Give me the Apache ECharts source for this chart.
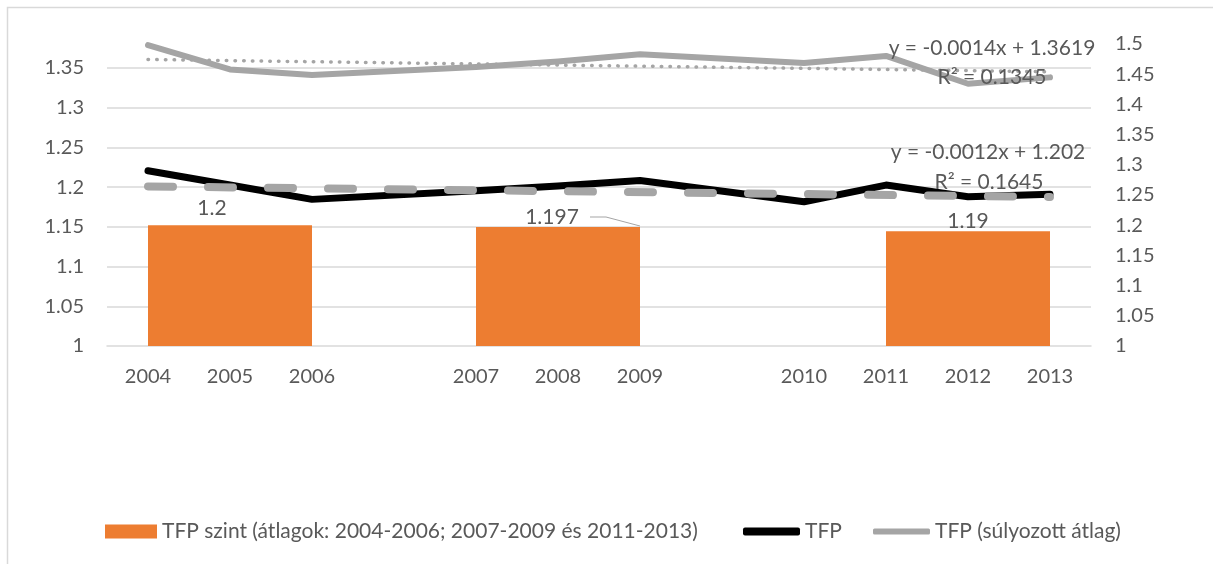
<!DOCTYPE html>
<html>
<head>
<meta charset="utf-8">
<script src="https://cdn.jsdelivr.net/npm/echarts@6/dist/echarts.min.js"></script>
<style>
  html, body { margin: 0; padding: 0; background: #fff; }
  #chart { width: 1213px; height: 564px; }
</style>
</head>
<body>
<div id="chart"></div>
<script>
var years = ['2004', '2005', '2006', '', '2007', '2008', '2009', '', '2010', '2011', '2012', '2013'];
var tfp_level = [null, 1.2, null, null, null, 1.197, null, null, null, null, 1.19, null];
var tfp = [1.2205, 1.2025, 1.1845, null, 1.1953, 1.2013, 1.2082, null, 1.1815, 1.2025, 1.1878, 1.1908];
var tfp_weighted = [1.3786, 1.348, 1.341, null, 1.351, 1.358, 1.367, null, 1.356, 1.365, 1.330, 1.338];
var tfp_trend = [1.2008, null, null, null, null, null, null, null, null, null, null, 1.1876];
var tfp_weighted_trend = [1.3605, null, null, null, null, null, null, null, null, null, null, 1.3451];

var level_name = 'TFP szint (átlagok: 2004-2006; 2007-2009 és 2011-2013)';
var font = 'Lato';
var text_color = '#595959';
var orange = '#ed7d31';
var grey = '#a5a5a5';

var chart = echarts.init(document.getElementById('chart'));

var legend_text = { fontFamily: font, fontSize: 21, color: text_color };

var option = {
    backgroundColor: '#fff',
    animation: false,
    textStyle: { fontFamily: font, color: text_color },
    grid: { left: 107, right: 122, top: 44, bottom: 218 },
    legend: [
        {
            data: [{ name: level_name, icon: 'rect' }],
            left: 105, top: 521, padding: 0, itemWidth: 52, itemHeight: 14,
            textStyle: legend_text
        },
        {
            data: [{ name: 'TFP', icon: 'roundRect' }],
            left: 743, top: 521, padding: 0, itemWidth: 57, itemHeight: 8,
            textStyle: legend_text
        },
        {
            data: [{ name: 'TFP (súlyozott átlag)', icon: 'roundRect' }],
            left: 873, top: 521, padding: 0, itemWidth: 57, itemHeight: 6,
            textStyle: legend_text
        }
    ],
    xAxis: {
        type: 'category',
        data: years,
        boundaryGap: true,
        axisLine: { lineStyle: { color: '#d9d9d9', width: 1.5 } },
        axisTick: { show: false },
        axisLabel: { interval: 0, margin: 21, fontSize: 20, color: text_color, fontFamily: font }
    },
    yAxis: [
        {
            type: 'value',
            min: 1,
            max: 1.38,
            interval: 0.05,
            axisLine: { show: false },
            axisTick: { show: false },
            splitLine: { show: true, showMaxLine: false, showMinLine: false, lineStyle: { color: '#d9d9d9', width: 1.5 } },
            axisLabel: { margin: 23, fontSize: 20, color: text_color, fontFamily: font, showMaxLabel: false }
        },
        {
            type: 'value',
            min: 1,
            max: 1.5,
            interval: 0.05,
            axisLine: { show: false },
            axisTick: { show: false },
            splitLine: { show: false },
            axisLabel: { margin: 24, fontSize: 20, color: text_color, fontFamily: font }
        }
    ],
    series: [
        {
            name: level_name,
            type: 'bar',
            yAxisIndex: 1,
            barWidth: '200%',
            itemStyle: { color: orange },
            data: tfp_level,
            label: {
                show: true,
                position: 'top',
                distance: 6,
                fontSize: 21,
                color: text_color,
                fontFamily: font
            },
            labelLayout: function (params) {
                var offsets = { 1: [-18, 0], 5: [-6, 7], 10: [0, 6] };
                var o = offsets[params.dataIndex] || [0, 0];
                return { dx: o[0], dy: o[1] };
            },
            z: 1
        },
        {
            name: 'TFP',
            type: 'line',
            data: tfp,
            connectNulls: true,
            showSymbol: false,
            itemStyle: { color: '#000' },
            lineStyle: { color: '#000', width: 7, cap: 'round', join: 'round' },
            z: 3
        },
        {
            name: 'TFP (súlyozott átlag)',
            type: 'line',
            data: tfp_weighted,
            connectNulls: true,
            showSymbol: false,
            itemStyle: { color: grey },
            lineStyle: { color: grey, width: 6, cap: 'round', join: 'round' },
            z: 3
        },
        {
            name: 'trend TFP',
            type: 'line',
            data: tfp_trend,
            connectNulls: true,
            showSymbol: false,
            lineStyle: { color: grey, width: 8, type: [25, 35], cap: 'round' },
            z: 4
        },
        {
            name: 'trend TFP (súlyozott átlag)',
            type: 'line',
            data: tfp_weighted_trend,
            connectNulls: true,
            showSymbol: false,
            lineStyle: { color: grey, width: 3.5, type: [0.5, 8.2], cap: 'round' },
            z: 2
        }
    ],
    graphic: [
        {
            type: 'rect',
            shape: { x: 7.5, y: 7.5, width: 1212, height: 570 },
            style: { fill: 'none', stroke: '#d9d9d9', lineWidth: 1.5 },
            silent: true
        },
        {
            type: 'text', x: 992, y: 48,
            style: { text: 'y = -0.0014x + 1.3619', fill: text_color, font: '21px Lato', textAlign: 'center', textVerticalAlign: 'middle' },
            z: 10
        },
        {
            type: 'text', x: 992, y: 77,
            style: { text: 'R² = 0.1345', fill: text_color, font: '21px Lato', textAlign: 'center', textVerticalAlign: 'middle' },
            z: 10
        },
        {
            type: 'text', x: 988, y: 152,
            style: { text: 'y = -0.0012x + 1.202', fill: text_color, font: '21px Lato', textAlign: 'center', textVerticalAlign: 'middle' },
            z: 10
        },
        {
            type: 'text', x: 989, y: 182,
            style: { text: 'R² = 0.1645', fill: text_color, font: '21px Lato', textAlign: 'center', textVerticalAlign: 'middle' },
            z: 10
        },
        {
            type: 'polyline',
            shape: { points: [[590, 217], [606, 217], [640, 226]] },
            style: { stroke: grey, lineWidth: 1, fill: 'none' },
            z: 10
        }
    ]
};
chart.setOption(option);

window.addEventListener('resize', function () {
    chart.resize();
});
</script>
</body>
</html>
